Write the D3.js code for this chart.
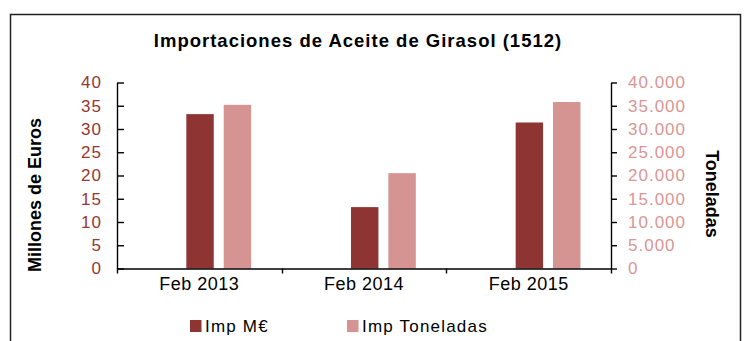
<!DOCTYPE html>
<html>
<head>
<meta charset="utf-8">
<script src="https://cdn.jsdelivr.net/npm/d3@7/dist/d3.min.js"></script>
<style>
  html, body { margin: 0; padding: 0; background: #fff; }
  svg { display: block; font-family: "Liberation Sans", Arial, sans-serif; }
</style>
</head>
<body>
<svg id="chart" width="747" height="341"></svg>
<script>
// Monthly sunflower oil imports (February of each year)
const categories = ["Feb 2013", "Feb 2014", "Feb 2015"];
const impEuros = [33.2, 13.2, 31.4];          // millones de euros (left axis)
const impToneladas = [35200, 20500, 35800];   // toneladas (right axis)
const leftTicks = [0, 5, 10, 15, 20, 25, 30, 35, 40];
const rightTicks = [0, 5000, 10000, 15000, 20000, 25000, 30000, 35000, 40000];
const seriesNames = ["Imp M€", "Imp Toneladas"];

const colDark = "#8e3533";
const colLight = "#d59392";
const colLeftText = "#953735";
const colRightText = "#d99694";

const esLocale = d3.formatLocale({ decimal: ",", thousands: ".", grouping: [3], currency: ["", " €"] });
const fmtThousands = esLocale.format(",d");

const svg = d3.select("#chart");

// outer frame
svg.append("rect")
  .attr("x", 10.5).attr("y", 14.5)
  .attr("width", 730).attr("height", 360)
  .attr("fill", "none").attr("stroke", "#222").attr("stroke-width", 1.5);

const plot = { left: 117, right: 611, top: 82.5, bottom: 268.5 };

const x = d3.scaleBand().domain(categories).range([plot.left, plot.right]);
const yL = d3.scaleLinear().domain([0, 40]).range([plot.bottom, plot.top]);
const yR = d3.scaleLinear().domain([0, 40000]).range([plot.bottom, plot.top]);

// bars: primary series sits near the band centre, secondary to its right
const bw = x.bandwidth();
const barW = bw * 0.1665;
const offDark = bw * 0.421;
const offLight = bw * 0.648;

svg.append("g").selectAll("rect")
  .data(categories.map((c, i) => ({ c, v: impEuros[i] })))
  .join("rect")
  .attr("x", d => x(d.c) + offDark)
  .attr("width", barW)
  .attr("y", d => yL(d.v))
  .attr("height", d => yL(0) - yL(d.v))
  .attr("fill", colDark);

svg.append("g").selectAll("rect")
  .data(categories.map((c, i) => ({ c, v: impToneladas[i] })))
  .join("rect")
  .attr("x", d => x(d.c) + offLight)
  .attr("width", barW)
  .attr("y", d => yR(d.v))
  .attr("height", d => yR(0) - yR(d.v))
  .attr("fill", colLight);

// left axis, ticks pointing inward
const gL = svg.append("g")
  .attr("transform", `translate(${plot.left},0)`)
  .call(d3.axisLeft(yL).tickValues(leftTicks).tickSize(-7).tickSizeOuter(0).tickPadding(15));
gL.selectAll("text")
  .attr("fill", colLeftText).attr("font-size", 17).attr("letter-spacing", 1)
  .attr("font-family", "Liberation Sans, Arial, sans-serif");

// right axis, ticks pointing outward
const gR = svg.append("g")
  .attr("transform", `translate(${plot.right},0)`)
  .call(d3.axisRight(yR).tickValues(rightTicks).tickFormat(fmtThousands).tickSize(6).tickSizeOuter(0).tickPadding(11));
gR.selectAll("text")
  .attr("fill", colRightText).attr("font-size", 17).attr("letter-spacing", 1)
  .attr("font-family", "Liberation Sans, Arial, sans-serif");

// category axis: baseline, boundary ticks and labels
const gX = svg.append("g")
  .attr("transform", `translate(0,${plot.bottom})`)
  .call(d3.axisBottom(x).tickSize(0).tickSizeOuter(0).tickPadding(9));
gX.select(".domain").attr("stroke", "#000");
gX.selectAll("text")
  .attr("fill", "#000").attr("font-size", 18).attr("letter-spacing", 0.5)
  .attr("font-family", "Liberation Sans, Arial, sans-serif");

const bounds = categories.map(c => x(c)).concat([x.range()[1]]);
gX.append("g").selectAll("line")
  .data(bounds)
  .join("line")
  .attr("x1", d => Math.round(d) + 0.5).attr("x2", d => Math.round(d) + 0.5)
  .attr("y1", 0).attr("y2", 5)
  .attr("stroke", "#000");

[gL, gR, gX].forEach(g => {
  g.selectAll("path, line").attr("stroke", "#000").attr("stroke-width", 1.4);
});

// title
svg.append("text")
  .attr("x", 358).attr("y", 47)
  .attr("text-anchor", "middle")
  .attr("font-size", 18.5).attr("font-weight", "bold").attr("letter-spacing", 1)
  .attr("fill", "#000")
  .text("Importaciones de Aceite de Girasol (1512)");

// axis titles
svg.append("text")
  .attr("transform", "translate(41,195) rotate(-90)")
  .attr("text-anchor", "middle")
  .attr("font-size", 18).attr("font-weight", "bold")
  .attr("fill", "#000")
  .text("Millones de Euros");

svg.append("text")
  .attr("transform", "translate(706,194) rotate(90)")
  .attr("text-anchor", "middle")
  .attr("font-size", 18).attr("font-weight", "bold")
  .attr("fill", "#000")
  .text("Toneladas");

// legend
const legend = svg.append("g");
const legendItems = [
  { name: seriesNames[0], color: colDark, x: 190 },
  { name: seriesNames[1], color: colLight, x: 347 }
];
const li = legend.selectAll("g").data(legendItems).join("g")
  .attr("transform", d => `translate(${d.x},320)`);
li.append("rect").attr("width", 11.5).attr("height", 12).attr("fill", d => d.color);
li.append("text")
  .attr("x", 15).attr("y", 11.7)
  .attr("font-size", 17).attr("letter-spacing", 1.2)
  .attr("fill", "#000")
  .text(d => d.name);
</script>
</body>
</html>
